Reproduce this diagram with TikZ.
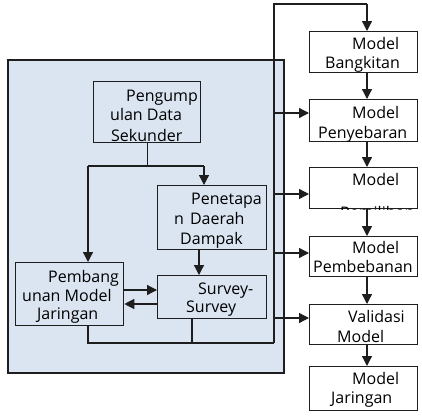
\documentclass[tikz,border=0pt]{standalone}
\usepackage{fontspec}
\setmainfont{Open Sans}
\usetikzlibrary{arrows.meta}
\definecolor{panelblue}{HTML}{DBE5F1}
\definecolor{edge}{HTML}{1E1E1E}
\tikzset{
  box/.style={draw=edge, line width=1.3pt, anchor=north west, inner sep=0pt},
  txt/.style={anchor=base west, inner sep=0pt, font=\fontsize{16}{19}\selectfont},
  ln/.style={draw=edge, line width=1.3pt},
  arr/.style={ln, -{Triangle[length=10pt,width=10pt]}},
}
\begin{document}
\begin{tikzpicture}[x=1pt,y=-1pt]
\useasboundingbox (0,0) rectangle (422,418);
% panel
\node[box, fill=panelblue, line width=1.5pt, minimum width=276pt, minimum height=313pt] (panel) at (7,59) {};
% left boxes
\node[box, fill=panelblue, minimum width=107pt, minimum height=61pt] (p1) at (93,81) {};
\node[box, fill=panelblue, minimum width=109pt, minimum height=64pt] (p2) at (157,185) {};
\node[box, fill=panelblue, minimum width=109pt, minimum height=43pt] (p3) at (157,275) {};
\node[box, fill=panelblue, minimum width=108pt, minimum height=63pt] (p4) at (15,262) {};
% right boxes
\node[box, fill=white, minimum width=108pt, minimum height=41pt] (b1) at (309,31) {};
\node[box, fill=white, minimum width=108pt, minimum height=42pt] (b2) at (309,99) {};
\node[box, fill=white, minimum width=108pt, minimum height=41pt] (b3) at (309,167) {};
\node[box, fill=white, minimum width=108pt, minimum height=40pt] (b4) at (309,236) {};
\node[box, fill=white, minimum width=108pt, minimum height=40pt] (b5) at (309,304) {};
\node[box, fill=white, minimum width=108pt, minimum height=44pt] (b6) at (309,366) {};
% coordinates
\coordinate (bt) at (274,4);
\coordinate (bb) at (274,343);
\coordinate (rx) at (367,0);
\coordinate (cl) at (88,166);
\coordinate (cr) at (204,166);
\coordinate (dx) at (199,0);
\coordinate (sx) at (192,0);
\coordinate (y1) at (0,113);
\coordinate (y2) at (0,194);
\coordinate (y3) at (0,253);
\coordinate (y4) at (0,318);
\coordinate (ya) at (0,290);
\coordinate (yb) at (0,304);
% bus
\draw[ln] (bb) -- (bt) -- (bt -| rx);
\draw[arr] (bt -| rx) -- (rx |- b1.north);
\draw[arr] (bt |- y1) -- (b2.west |- y1);
\draw[arr] (bt |- y2) -- (b3.west |- y2);
\draw[arr] (bt |- y3) -- (b4.west |- y3);
\draw[arr] (bt |- y4) -- (b5.west |- y4);
% right chain
\draw[arr] (rx |- b1.south) -- (rx |- b2.north);
\draw[arr] (rx |- b2.south) -- (rx |- b3.north);
\draw[arr] (rx |- b3.south) -- (rx |- b4.north);
\draw[arr] (rx |- b4.south) -- (rx |- b5.north);
\draw[arr] (rx |- b5.south) -- (rx |- b6.north);
% left flow
\draw[ln] (p1.south) -- (p1.south |- cl);
\draw[ln] (cl) -- (cr);
\draw[arr] (cl) -- (cl |- p4.north);
\draw[arr] (cr) -- (cr |- p2.north);
\draw[arr] (dx |- p2.south) -- (dx |- p3.north);
\draw[arr] (p4.east |- ya) -- (p3.west |- ya);
\draw[arr] (p3.west |- yb) -- (p4.east |- yb);
\draw[ln] (cl |- p4.south) -- (cl |- bb) -- (bb);
\draw[ln] (sx |- p3.south) -- (sx |- bb);
% texts left
\node[txt] (t1a) at (126,101) {Pengump};
\node[txt] (t1b) at (110,120) {ulan Data};
\node[txt] (t1c) at (111,141) {Sekunder};
\node[txt] (t2a) at (191,204) {Penetapa};
\node[txt] (t2b) at (174,224) {n\hspace{6pt}Daerah};
\node[txt] (t2c) at (180,244) {Dampak};
\node[txt] (t3a) at (198,294) {Survey-};
\node[txt] (t3b) at (186,312) {Survey};
\node[txt] (t4a) at (48,282) {Pembang};
\node[txt] (t4b) at (22,301) {unan Model};
\node[txt] (t4c) at (37,319) {Jaringan};
% texts right
\node[txt] (r1a) at (352,49) {Model};
\node[txt] (r1b) at (325,68) {Bangkitan};
\node[txt] (r2a) at (352,118) {Model};
\node[txt] (r2b) at (318,138) {Penyebaran};
\node[txt] (r3a) at (352,185) {Model};
\begin{scope}
\clip (b3.north west) rectangle (b3.south east);
\node[txt] (r3b) at (340,218) {Pemilihan};
\end{scope}
\node[txt] (r4a) at (352,253) {Model};
\node[txt] (r4b) at (313,272) {Pembebanan};
\node[txt] (r5a) at (348,322) {Validasi};
\node[txt] (r5b) at (337,342) {Model};
\node[txt] (r6a) at (352,384) {Model};
\node[txt] (r6b) at (331,403) {Jaringan};
\end{tikzpicture}
\end{document}
